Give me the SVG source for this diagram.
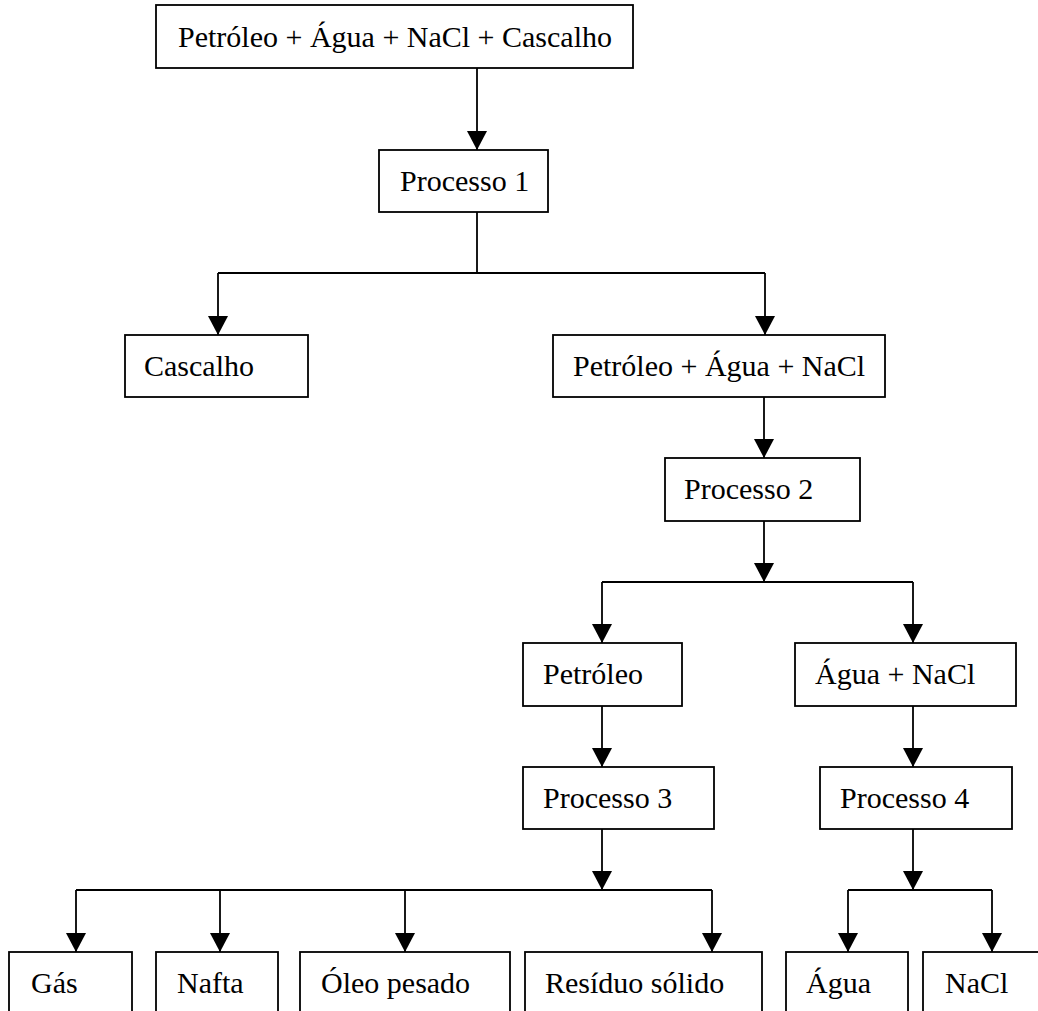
<svg xmlns="http://www.w3.org/2000/svg" width="1038" height="1011" viewBox="0 0 1038 1011">
<style>
.box{fill:#fff;stroke:#000;stroke-width:1.8}
.lbl{font-family:"Liberation Serif","Times New Roman",serif;font-size:30px;fill:#000}
.ln{fill:none;stroke:#000;stroke-width:1.8}
</style>
<defs>
<marker id="ah" markerUnits="userSpaceOnUse" markerWidth="20" markerHeight="20" refX="19" refY="10" orient="auto" viewBox="0 0 20 20">
<path d="M0,0 L19,10 L0,20 Z" fill="#000"/>
</marker>
</defs>
<rect width="1038" height="1011" fill="#fff"/>
<g id="connectors">
<line class="ln" x1="477" y1="68" x2="477" y2="150" marker-end="url(#ah)"/>
<polyline class="ln" points="477,212 477,273"/>
<polyline class="ln" points="218,273 765,273"/>
<line class="ln" x1="218" y1="273" x2="218" y2="335" marker-end="url(#ah)"/>
<line class="ln" x1="765" y1="273" x2="765" y2="335" marker-end="url(#ah)"/>
<line class="ln" x1="764" y1="397" x2="764" y2="458" marker-end="url(#ah)"/>
<line class="ln" x1="764" y1="521" x2="764" y2="582" marker-end="url(#ah)"/>
<polyline class="ln" points="602,582 913,582"/>
<line class="ln" x1="602" y1="582" x2="602" y2="643" marker-end="url(#ah)"/>
<line class="ln" x1="913" y1="582" x2="913" y2="643" marker-end="url(#ah)"/>
<line class="ln" x1="602" y1="706" x2="602" y2="767" marker-end="url(#ah)"/>
<line class="ln" x1="913" y1="706" x2="913" y2="767" marker-end="url(#ah)"/>
<line class="ln" x1="602" y1="829" x2="602" y2="890" marker-end="url(#ah)"/>
<polyline class="ln" points="76,890 712,890"/>
<line class="ln" x1="76" y1="890" x2="76" y2="952" marker-end="url(#ah)"/>
<line class="ln" x1="220" y1="890" x2="220" y2="952" marker-end="url(#ah)"/>
<line class="ln" x1="405" y1="890" x2="405" y2="952" marker-end="url(#ah)"/>
<line class="ln" x1="712" y1="890" x2="712" y2="952" marker-end="url(#ah)"/>
<line class="ln" x1="913" y1="829" x2="913" y2="890" marker-end="url(#ah)"/>
<polyline class="ln" points="848,890 992,890"/>
<line class="ln" x1="848" y1="890" x2="848" y2="952" marker-end="url(#ah)"/>
<line class="ln" x1="992" y1="890" x2="992" y2="952" marker-end="url(#ah)"/>
</g>
<g id="n-mix"><rect class="box" x="156" y="5" width="477" height="63"/><text class="lbl" x="178" y="47">Petróleo + Água + NaCl + Cascalho</text></g>
<g id="n-p1"><rect class="box" x="379" y="150" width="169" height="62"/><text class="lbl" x="400" y="191">Processo 1</text></g>
<g id="n-cascalho"><rect class="box" x="125" y="335" width="183" height="62"/><text class="lbl" x="144" y="376">Cascalho</text></g>
<g id="n-pan"><rect class="box" x="553" y="335" width="332" height="62"/><text class="lbl" x="573" y="376">Petróleo + Água + NaCl</text></g>
<g id="n-p2"><rect class="box" x="665" y="458" width="195" height="63"/><text class="lbl" x="684" y="499">Processo 2</text></g>
<g id="n-petroleo"><rect class="box" x="523" y="643" width="159" height="63"/><text class="lbl" x="543" y="684">Petróleo</text></g>
<g id="n-an"><rect class="box" x="795" y="643" width="221" height="63"/><text class="lbl" x="815" y="684">Água + NaCl</text></g>
<g id="n-p3"><rect class="box" x="523" y="767" width="191" height="62"/><text class="lbl" x="543" y="808">Processo 3</text></g>
<g id="n-p4"><rect class="box" x="820" y="767" width="192" height="62"/><text class="lbl" x="840" y="808">Processo 4</text></g>
<g id="n-gas"><rect class="box" x="9" y="952" width="123" height="70"/><text class="lbl" x="31" y="993">Gás</text></g>
<g id="n-nafta"><rect class="box" x="156" y="952" width="122" height="70"/><text class="lbl" x="177" y="993">Nafta</text></g>
<g id="n-oleo"><rect class="box" x="300" y="952" width="210" height="70"/><text class="lbl" x="321" y="993">Óleo pesado</text></g>
<g id="n-residuo"><rect class="box" x="525" y="952" width="237" height="70"/><text class="lbl" x="545" y="993">Resíduo sólido</text></g>
<g id="n-agua"><rect class="box" x="786" y="952" width="122" height="70"/><text class="lbl" x="806" y="993">Água</text></g>
<g id="n-nacl"><rect class="box" x="923" y="952" width="130" height="70"/><text class="lbl" x="945" y="993">NaCl</text></g>
</svg>
